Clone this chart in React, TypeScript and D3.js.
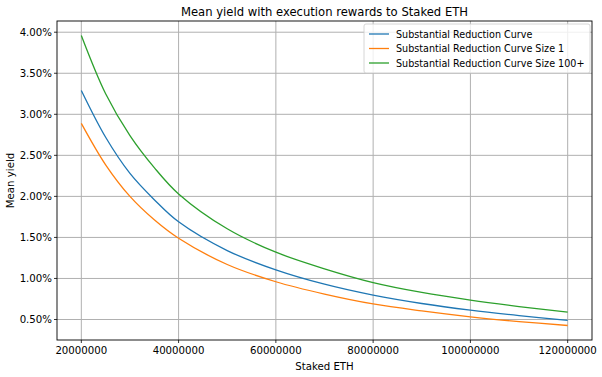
import React from "react";
import * as d3 from "d3";

const stakedEth = [20e6, 25e6, 30e6, 35e6, 40e6, 50e6, 60e6, 70e6, 80e6, 90e6, 100e6, 110e6, 120e6];
const substantial = [3.29, 2.72, 2.28, 1.96, 1.69, 1.34, 1.105, 0.93, 0.797, 0.695, 0.614, 0.548, 0.49];
const size1 = [2.89, 2.385, 2.0, 1.715, 1.49, 1.17, 0.96, 0.81, 0.69, 0.605, 0.533, 0.475, 0.427];
const size100 = [3.96, 3.25, 2.74, 2.35, 2.03, 1.605, 1.32, 1.118, 0.95, 0.83, 0.736, 0.658, 0.59];
const xTicks = [20e6, 40e6, 60e6, 80e6, 100e6, 120e6];
const yTicks = [0.5, 1.0, 1.5, 2.0, 2.5, 3.0, 3.5, 4.0];
const seriesNames = [
  "Substantial Reduction Curve",
  "Substantial Reduction Curve Size 1",
  "Substantial Reduction Curve Size 100+",
];
const seriesColors = ["#1f77b4", "#ff7f0e", "#2ca02c"];

const W = 602, H = 377;
const L = 57, R = 592, T = 21, B = 340;
const FONT = "DejaVu Sans, sans-serif";

export default function App() {
  const all = [...substantial, ...size1, ...size100];
  const ymin = d3.min(all)!, ymax = d3.max(all)!;
  const ypad = (ymax - ymin) * 0.05;
  const x = d3.scaleLinear().domain([15e6, 125e6]).range([L, R]);
  const y = d3.scaleLinear().domain([ymin - ypad, ymax + ypad]).range([B, T]);
  const line = d3
    .line<[number, number]>()
    .x((d) => x(d[0]))
    .y((d) => y(d[1]))
    .curve(d3.curveCatmullRom.alpha(0.5));
  const series = [substantial, size1, size100];

  return (
    <svg width={W} height={H} style={{ position: "absolute", left: 0, top: 0, background: "#fff" }} fontFamily={FONT}>
      <rect x={0} y={0} width={W} height={H} fill="#fff" />
      {xTicks.map((t) => (
        <line key={"gx" + t} x1={x(t)} x2={x(t)} y1={T} y2={B} stroke="#b0b0b0" strokeWidth={1} />
      ))}
      {yTicks.map((t) => (
        <line key={"gy" + t} x1={L} x2={R} y1={y(t)} y2={y(t)} stroke="#b0b0b0" strokeWidth={1} />
      ))}
      {series.map((s, i) => (
        <path
          key={i}
          d={line(stakedEth.map((v, j) => [v, s[j]] as [number, number]))!}
          fill="none"
          stroke={seriesColors[i]}
          strokeWidth={1.3}
        />
      ))}
      <rect x={L} y={T} width={R - L} height={B - T} fill="none" stroke="#000" strokeWidth={0.9} />
      {xTicks.map((t) => (
        <g key={"tx" + t}>
          <line x1={x(t)} x2={x(t)} y1={B} y2={B + 3} stroke="#000" strokeWidth={0.8} />
          <text x={x(t)} y={B + 14} fontSize={10.2} textAnchor="middle" fill="#000">
            {d3.format("d")(t)}
          </text>
        </g>
      ))}
      {yTicks.map((t) => (
        <g key={"ty" + t}>
          <line x1={L - 3} x2={L} y1={y(t)} y2={y(t)} stroke="#000" strokeWidth={0.8} />
          <text x={L - 5} y={y(t) + 3.6} fontSize={10.2} textAnchor="end" fill="#000">
            {t.toFixed(2) + "%"}
          </text>
        </g>
      ))}
      <text x={(L + R) / 2} y={16} fontSize={11.6} textAnchor="middle" fill="#000">
        Mean yield with execution rewards to Staked ETH
      </text>
      <text x={(L + R) / 2} y={370} fontSize={10.2} textAnchor="middle" fill="#000">
        Staked ETH
      </text>
      <text transform={`translate(14,${(T + B) / 2}) rotate(-90)`} fontSize={10.2} textAnchor="middle" fill="#000">
        Mean yield
      </text>
      <g>
        <rect x={364} y={24} width={226} height={49} rx={2} fill="#fff" fillOpacity={0.8} stroke="#cccccc" strokeWidth={0.8} />
        {seriesNames.map((n, i) => (
          <g key={n}>
            <line x1={369} x2={389} y1={34 + i * 14.5} y2={34 + i * 14.5} stroke={seriesColors[i]} strokeWidth={1.3} />
            <text x={396} y={37.5 + i * 14.5} fontSize={9.6} fill="#000">
              {n}
            </text>
          </g>
        ))}
      </g>
    </svg>
  );
}
